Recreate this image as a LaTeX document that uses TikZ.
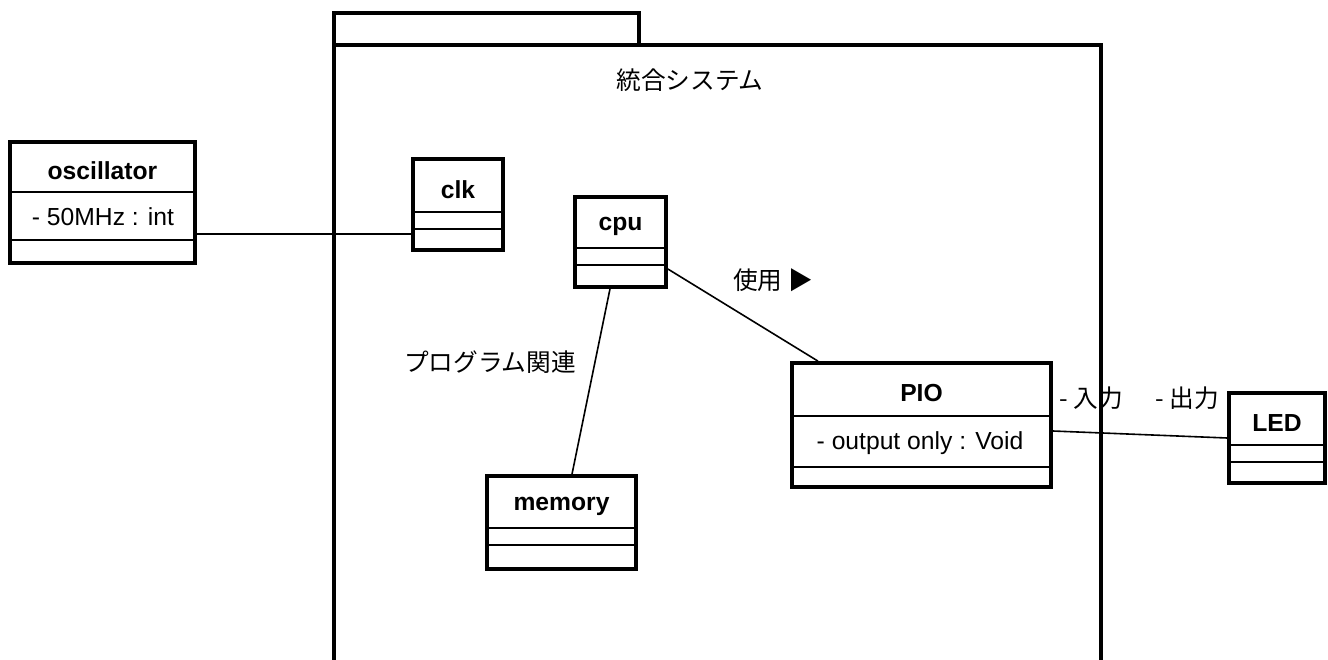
\documentclass[tikz,border=0pt]{standalone}
\usepackage{fontspec}
\setmainfont{Liberation Sans}
\newfontfamily\jpfont{Noto Sans CJK JP}
\usetikzlibrary{fit,calc}

\newcommand{\umlclass}[8]{%
  \draw[divider] (#2,#6) -- (#4,#6) (#2,#7) -- (#4,#7);
  \node[classbox, fit={(#2,#3) (#4,#5)}] (#1) {};
  \node[classname] (#1-name) at ($(#2,#3)!0.5!(#4,#6)$) {#8};
}

\begin{document}
\begin{tikzpicture}[
x=0.75pt,y=-0.75pt,
font=\fontsize{18.5pt}{22pt}\selectfont,
classbox/.style={draw,line width=2.8pt,inner sep=0pt},
divider/.style={draw,line width=1.2pt},
classname/.style={font=\fontsize{18.5pt}{22pt}\selectfont\bfseries,inner sep=0pt,yshift=-3pt},
attr/.style={inner sep=0pt},
pkg/.style={draw,line width=2.8pt},
assoc/.style={draw,line width=1.2pt},
jp/.style={font=\fontsize{18.5pt}{22pt}\selectfont\jpfont,inner sep=0pt},
]
\useasboundingbox (0,0) rectangle (1328,660);

\path[pkg] (334,662) -- (334,13) -- (639,13) -- (639,45);
\path[pkg] (334,45) -- (1101,45) -- (1101,662);
\node[jp] (pkg-name) at (690,80) {統合システム};

\umlclass{osc}{10}{142}{195}{263}{192}{240}{oscillator}
\umlclass{clk}{413}{159}{503}{250}{212}{229}{clk}
\umlclass{cpu}{575}{197}{666}{287}{248}{265}{cpu}
\umlclass{memory}{487}{476}{636}{569}{528}{545}{memory}
\umlclass{PIO}{792}{363}{1051}{487}{416}{467}{PIO}
\umlclass{LED}{1229}{393}{1325}{483}{445}{462}{LED}

\node[attr] (osc-attr) at (103,217) {- 50MHz : int};
\node[attr] (PIO-attr) at (920,443) {- output only : Void};

\path[assoc] (osc.east |- 0,234) -- (clk.west |- 0,234);
\path[assoc] (cpu.east |- 0,269) -- (PIO.north -| 818,0);
\path[assoc] (cpu.south -| 610,0) -- (memory.north -| 572,0);
\path[assoc] (PIO.east |- 0,431) -- (LED.west |- 0,438);

\node[jp] (rel-prog) at (490,362) {プログラム関連};
\node[jp] (rel-use) at (773,280) {使用 ▶};
\node[jp] (role-in) at (1091,398) {- 入力};
\node[jp] (role-out) at (1187,398) {- 出力};
\end{tikzpicture}
\end{document}
